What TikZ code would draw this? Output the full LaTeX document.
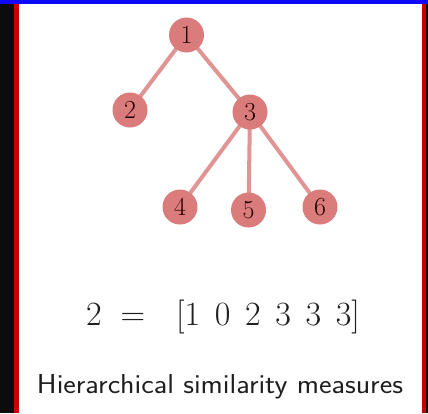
\documentclass[tikz,border=0pt]{standalone}
\usepackage{fontspec}
\usepackage{tikz}
\definecolor{nodefill}{RGB}{219,124,124}
\definecolor{edgecol}{RGB}{224,148,148}
\definecolor{bblue}{RGB}{10,10,245}
\definecolor{bred}{RGB}{200,0,0}
\definecolor{bblack}{RGB}{12,12,12}
\definecolor{txt}{RGB}{30,30,30}
\begin{document}
\begin{tikzpicture}[x=1pt,y=-1pt,
  treenode/.style={circle,fill=nodefill,minimum size=35pt,inner sep=0pt,font=\fontsize{26}{26}\selectfont,text=black!85!red},
  treeedge/.style={draw=edgecol,line width=4pt},
  bigtext/.style={anchor=base west,inner sep=0pt,text=txt,font=\fontsize{34}{34}\selectfont}]
\useasboundingbox (0,0) rectangle (428,413);
\fill[white] (0,0) rectangle (428,413);
% borders
\fill[bblack] (0,0) rectangle (14,413);
\fill[bred] (14,4) rectangle (19,413);
\fill[bred] (421.5,4) rectangle (426,413);
\fill[bblack] (426,0) rectangle (428,413);
\fill[bblue] (0,0) rectangle (428,4);
% node positions
\coordinate (p1) at (186.5,35);
\coordinate (p2) at (130,110);
\coordinate (p3) at (250,112);
\coordinate (p4) at (180,207);
\coordinate (p5) at (248.5,210);
\coordinate (p6) at (320,207);
% edges
\path[treeedge] (p1) -- (p2);
\path[treeedge] (p1) -- (p3);
\path[treeedge] (p3) -- (p4);
\path[treeedge] (p3) -- (p5);
\path[treeedge] (p3) -- (p6);
% nodes
\node[treenode] (n1) at (p1) {1};
\node[treenode] (n2) at (p2) {2};
\node[treenode] (n3) at (p3) {3};
\node[treenode] (n4) at (p4) {4};
\node[treenode] (n5) at (p5) {5};
\node[treenode] (n6) at (p6) {6};
% formula
\node[bigtext] (eq) at (86,325) {2\hspace{0.55em}=};
\node[bigtext] (vec) at (176,325) {[1\hspace{0.43em}0\hspace{0.43em}2\hspace{0.43em}3\hspace{0.43em}3\hspace{0.43em}3]};
\node[anchor=base,inner sep=0pt,text=txt,font=\sffamily\fontsize{27.4}{27.4}\selectfont] (cap) at (220,393) {\scalebox{1.09}[1]{Hierarchical similarity measures}};
\end{tikzpicture}
\end{document}
